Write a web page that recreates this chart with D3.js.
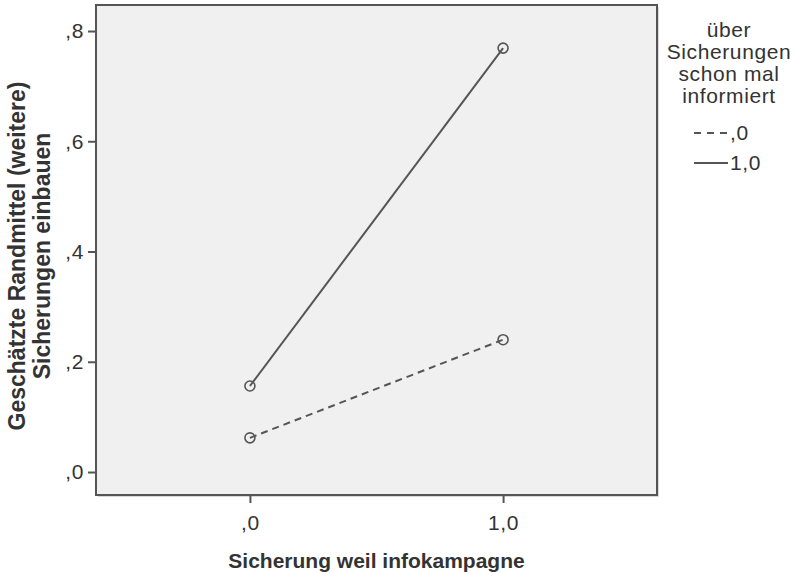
<!DOCTYPE html>
<html>
<head>
<meta charset="utf-8">
<script src="https://cdn.jsdelivr.net/npm/d3@7"></script>
<style>
  body { margin: 0; background: #fff; }
  text { font-family: "Liberation Sans", Arial, sans-serif; fill: #333; }
</style>
</head>
<body>
<svg class="chart" width="796" height="573"></svg>
<script>
// x categories (Sicherung weil infokampagne)
var categories = [0, 1];
var xTickLabels = [",0", "1,0"];
// groups (über Sicherungen schon mal informiert)
var groups = [",0", "1,0"];
var values_0 = [0.062, 0.240];
var values_1 = [0.156, 0.769];
var yTicks = [0, 0.2, 0.4, 0.6, 0.8];
var yTickLabels = [",0", ",2", ",4", ",6", ",8"];

var series = [
  { name: groups[0], values: values_0, dash: "7,5" },
  { name: groups[1], values: values_1, dash: null }
];

var margin = {left: 96, top: 5, right: 139, bottom: 78};
var width = 796 - margin.left - margin.right;
var height = 573 - margin.top - margin.bottom;

var svg = d3.select(".chart");
var chart = svg.append("g")
  .attr("transform", "translate(" + margin.left + "," + margin.top + ")");

var xChart = d3.scaleLinear().domain([-0.608, 1.608]).range([0, width]);
var yChart = d3.scaleLinear().domain([-0.0417, 0.8472]).range([height, 0]);

// shadow + plot background
chart.append("rect")
  .attr("x", 2).attr("y", 2)
  .attr("width", width).attr("height", height)
  .attr("fill", "#d8d8d8");
chart.append("rect")
  .attr("width", width).attr("height", height)
  .attr("fill", "#f0f0f0")
  .attr("stroke", "#555").attr("stroke-width", 2);

// axes
var yAxis = d3.axisLeft(yChart).tickValues(yTicks)
  .tickFormat(function(d, i){ return yTickLabels[i]; })
  .tickSizeOuter(0).tickSize(8).tickPadding(4);
var xAxis = d3.axisBottom(xChart).tickValues(categories)
  .tickFormat(function(d, i){ return xTickLabels[i]; })
  .tickSizeOuter(0).tickSize(8).tickPadding(12);

var gy = chart.append("g").call(yAxis);
gy.select(".domain").remove();
gy.selectAll("line").attr("stroke", "#555").attr("stroke-width", 2);
gy.selectAll("text").style("font-size", "21px").style("letter-spacing", "0.6px").attr("fill", "#444");

var gx = chart.append("g").attr("transform", "translate(0," + height + ")").call(xAxis);
gx.select(".domain").remove();
gx.selectAll("line").attr("stroke", "#555").attr("stroke-width", 2);
gx.selectAll("text").style("font-size", "21px").style("letter-spacing", "0.6px").attr("fill", "#444");

// lines
var line = d3.line()
  .x(function(d, i){ return xChart(categories[i]); })
  .y(function(d){ return yChart(d); });

series.forEach(function(s){
  chart.append("path")
    .datum(s.values)
    .attr("d", line)
    .attr("fill", "none")
    .attr("stroke", "#555")
    .attr("stroke-width", 2)
    .attr("stroke-dasharray", s.dash);
  chart.selectAll(null)
    .data(s.values)
    .enter()
    .append("circle")
    .attr("cx", function(d, i){ return xChart(categories[i]); })
    .attr("cy", function(d){ return yChart(d); })
    .attr("r", 5)
    .attr("fill", "none")
    .attr("stroke", "#555")
    .attr("stroke-width", 1.6);
});

// axis titles
svg.append("text")
  .attr("transform", "translate(25," + (margin.top + height/2 + 6) + ") rotate(-90)")
  .attr("text-anchor", "middle")
  .style("font-size", "23px").style("font-weight", "bold").attr("fill", "#1e1e1e")
  .text("Geschätzte Randmittel (weitere)");
svg.append("text")
  .attr("transform", "translate(50," + (margin.top + height/2 + 6) + ") rotate(-90)")
  .attr("text-anchor", "middle")
  .style("font-size", "23px").style("font-weight", "bold").attr("fill", "#1e1e1e")
  .text("Sicherungen einbauen");
svg.append("text")
  .attr("x", margin.left + width/2).attr("y", 568)
  .attr("text-anchor", "middle")
  .style("font-size", "21px").style("font-weight", "bold").attr("fill", "#1e1e1e")
  .text("Sicherung weil infokampagne");

// legend
var legendTitle = ["über", "Sicherungen", "schon mal", "informiert"];
svg.selectAll(null).data(legendTitle).enter()
  .append("text")
  .attr("x", 729)
  .attr("y", function(d, i){ return 37 + i * 22; })
  .attr("text-anchor", "middle")
  .style("font-size", "21px").style("letter-spacing", "0.6px")
  .text(function(d){ return d; });

var legend = svg.selectAll(".leg").data(series).enter()
  .append("g").attr("class", "leg")
  .attr("transform", function(d, i){ return "translate(694," + (133 + i * 30) + ")"; });
legend.append("line")
  .attr("x1", 0).attr("x2", 34)
  .attr("stroke", "#555").attr("stroke-width", 2)
  .attr("stroke-dasharray", function(d){ return d.dash ? "7,6" : null; });
legend.append("text")
  .attr("x", 36).attr("y", 7)
  .style("font-size", "21px").style("letter-spacing", "0.6px")
  .text(function(d){ return d.name; });
</script>
</body>
</html>
